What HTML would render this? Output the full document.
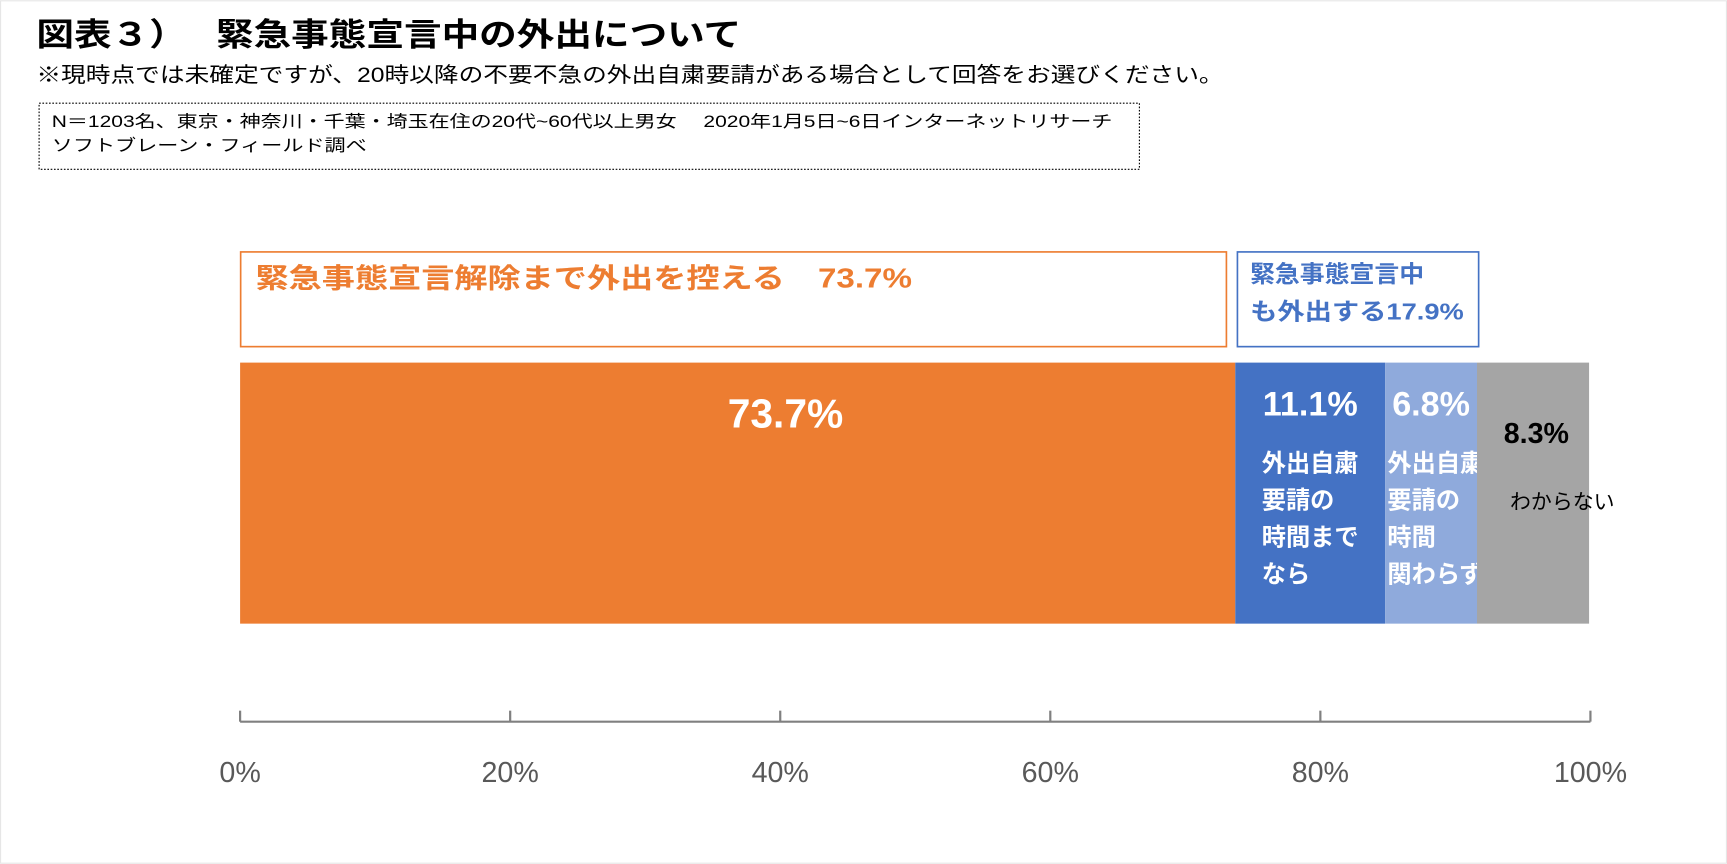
<!DOCTYPE html>
<html><head><meta charset="utf-8"><style>
html,body{margin:0;padding:0;background:#fff}
svg{display:block}
text{font-family:"Liberation Sans","Noto Sans CJK JP",sans-serif}
</style></head><body>
<svg id="chart" width="1727" height="864" viewBox="0 0 1568 784" xmlns="http://www.w3.org/2000/svg">
<rect x="0.5" y="0.5" width="1567" height="783" fill="#fff" stroke="#e6e6e6"/>
<text x="33" y="41" font-size="29" font-weight="bold" fill="#000" textLength="640" lengthAdjust="spacingAndGlyphs">図表３）　 緊急事態宣言中の外出について</text>
<text x="33" y="74" font-size="19" fill="#000" textLength="1078" lengthAdjust="spacingAndGlyphs">※現時点では未確定ですが、20時以降の不要不急の外出自粛要請がある場合として回答をお選びください。</text>
<rect x="35.5" y="93.5" width="999" height="60" fill="none" stroke="#000" stroke-dasharray="1.5,1.5"/>
<text x="47" y="115" font-size="15" fill="#000" textLength="963" lengthAdjust="spacingAndGlyphs">N＝1203名、東京・神奈川・千葉・埼玉在住の20代~60代以上男女　 2020年1月5日~6日インターネットリサーチ</text>
<text x="47" y="137" font-size="15" fill="#000" textLength="286" lengthAdjust="spacingAndGlyphs">ソフトブレーン・フィールド調べ</text>
<rect x="218.5" y="228.5" width="895" height="86" fill="none" stroke="#ED7D31" stroke-width="1.5"/>
<text x="232" y="261" font-size="25" font-weight="bold" fill="#ED7D31" textLength="596" lengthAdjust="spacingAndGlyphs">緊急事態宣言解除まで外出を控える　73.7%</text>
<rect x="1123.5" y="228.5" width="219" height="86" fill="none" stroke="#4472C4" stroke-width="1.5"/>
<text x="1135" y="256" font-size="21" font-weight="bold" fill="#4472C4" textLength="158" lengthAdjust="spacingAndGlyphs">緊急事態宣言中</text>
<text x="1135" y="290" font-size="21" font-weight="bold" fill="#4472C4" textLength="194" lengthAdjust="spacingAndGlyphs">も外出する17.9%</text>
<g id="bars"></g>
<g id="axis"></g>
</svg>
<script>
const categories = ["緊急事態宣言解除まで外出を控える","外出自粛要請の時間までなら","外出自粛要請の時間関わらず","わからない"];
const values = [73.7, 11.1, 6.8, 8.3];
const ticks = [0, 20, 40, 60, 80, 100];
const tickLabels = ["0%","20%","40%","60%","80%","100%"];
const NS="http://www.w3.org/2000/svg";
const x0=218, x1=1444, barTop=329, barBot=566, axisY=655;
const xs=v=>x0+(x1-x0)*v/100;
const colors=["#ED7D31","#4472C4","#8FAADC","#A5A5A5"];
function mk(tag,attrs,parent,txt){const e=document.createElementNS(NS,tag);for(const k in attrs)e.setAttribute(k,attrs[k]);if(txt!=null)e.textContent=txt;parent.appendChild(e);return e;}
const bars=document.getElementById('bars');
let cum=0;
const lines=[null,["外出自粛","要請の","時間まで","なら"],["外出自粛","要請の","時間","関わらず"],["わからない"]];
values.forEach((v,i)=>{
  const a=xs(cum), b=xs(cum+v);
  const r=mk('rect',{x:a,y:barTop,width:b-a,height:barBot-barTop,fill:colors[i]},bars);
  
  
  let t;
  if(i===0){t=mk('text',{x:a+(b-a)*0.548,y:388,'font-size':37,'font-weight':'bold',fill:'#fff','text-anchor':'middle'},bars,v.toFixed(1)+'%');}
  else if(i<3){t=mk('text',{x:(a+b)/2,y:377,'font-size':31,'font-weight':'bold',fill:'#fff','text-anchor':'middle'},bars,v.toFixed(1)+'%');}
  else {t=mk('text',{x:(a+b)/2+3,y:402,'font-size':26,'font-weight':'bold',fill:'#000','text-anchor':'middle'},bars,v.toFixed(1)+'%');}
  
  
  if(i>0){
    lines[i].forEach((ln,j)=>{
      let c;
      if(i===3) c=mk('text',{x:a+30,y:462,'font-size':19,fill:'#000'},bars,ln);
      else c=mk('text',{x:a+(i===1?24:2),y:428+j*33.5,'font-size':22,'font-weight':'bold',fill:'#fff'},bars,ln);
      
      
    });
  }
  cum+=v;
});
const ax=document.getElementById('axis');
const al=mk('line',{x1:x0,x2:x1,y1:axisY,y2:axisY,stroke:'#808080','stroke-width':2},ax);


ticks.forEach((t,i)=>{
  const x=xs(t);
  const tk=mk('line',{x1:x,x2:x,y1:axisY-10,y2:axisY,stroke:'#808080','stroke-width':2},ax);
  
  
  const lb=mk('text',{x:x,y:710,'font-size':26,fill:'#595959','text-anchor':'middle'},ax,tickLabels[i]);
  
  
});
</script>
</body></html>
